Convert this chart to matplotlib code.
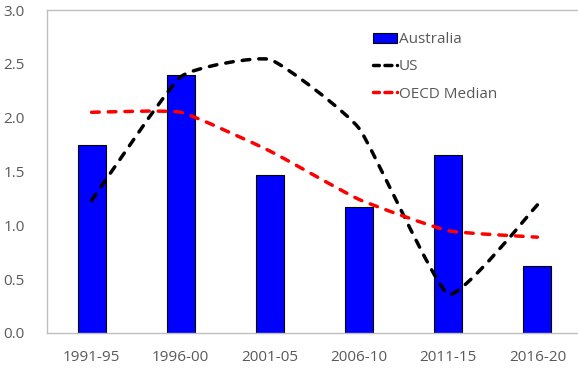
import matplotlib
matplotlib.use("Agg")
import matplotlib.pyplot as plt
import numpy as np
from matplotlib.path import Path
from matplotlib.patches import PathPatch
from matplotlib.lines import Line2D
from matplotlib.patches import Patch

plt.rcParams['font.family'] = ['Open Sans', 'DejaVu Sans']

periods = ["1991-95", "1996-00", "2001-05", "2006-10", "2011-15", "2016-20"]
australia = [1.75, 2.40, 1.47, 1.17, 1.65, 0.62]
us = [1.23, 2.38, 2.54, 1.90, 0.36, 1.19]
oecd_median = [2.05, 2.05, 1.69, 1.24, 0.95, 0.89]

yticks = [0.0, 0.5, 1.0, 1.5, 2.0, 2.5, 3.0]
grey = "#595959"


def smooth_path(xs, ys, tension=0.07):
    """Cubic Bezier path through the points with gently rounded corners."""
    pts = np.column_stack([xs, ys]).astype(float)
    n = len(pts)
    verts = [pts[0]]
    codes = [Path.MOVETO]
    for i in range(n - 1):
        p0 = pts[i - 1] if i > 0 else pts[i]
        p1 = pts[i]
        p2 = pts[i + 1]
        p3 = pts[i + 2] if i + 2 < n else pts[i + 1]
        c1 = p1 + (p2 - p0) * tension
        c2 = p2 - (p3 - p1) * tension
        verts += [c1, c2, p2]
        codes += [Path.CURVE4] * 3
    return Path(verts, codes)


fig = plt.figure(figsize=(5.78, 3.68), dpi=100)
ax = fig.add_axes([47 / 578, 35 / 368, 535 / 578, 323 / 368])

x = np.arange(len(periods))
ax.bar(x, australia, width=0.315, color="#0000FF", edgecolor="black",
       linewidth=0.8, zorder=2)

dash = (0, (2.2, 2.6))
line_style = dict(linewidth=2.5, linestyle=dash, fill=False,
                  capstyle="round", joinstyle="round", zorder=3)
ax.add_patch(PathPatch(smooth_path(x, us), edgecolor="black", **line_style))
ax.add_patch(PathPatch(smooth_path(x, oecd_median), edgecolor="#FF0000", **line_style))

ax.set_xlim(-0.5, len(periods) - 0.5)
ax.set_ylim(0, 3.0)
ax.set_yticks(yticks)
ax.set_yticklabels([f"{v:.1f}" for v in yticks])
ax.set_xticks(x)
ax.set_xticklabels(periods)
ax.tick_params(axis="both", length=0, labelsize=11, colors=grey)
ax.tick_params(axis="y", pad=16)
ax.tick_params(axis="x", pad=12)

for side in ["left", "bottom", "top", "right"]:
    ax.spines[side].set_color("#BFBFBF")
    ax.spines[side].set_linewidth(1.0)

handles = [
    Patch(facecolor="#0000FF", edgecolor="black", linewidth=0.8),
    Line2D([], [], color="black", linewidth=2.5, linestyle=(0.3, (2.0, 1.6)),
           dash_capstyle="round"),
    Line2D([], [], color="#FF0000", linewidth=2.5, linestyle=(0.3, (2.0, 1.6)),
           dash_capstyle="round"),
]
leg = ax.legend(handles, ["Australia", "US", "OECD Median"],
                loc="upper left", bbox_to_anchor=(0.598, 0.95),
                frameon=False, fontsize=11, handlelength=1.55,
                handleheight=0.65, handletextpad=0.15, labelspacing=0.8,
                borderaxespad=0)
for t in leg.get_texts():
    t.set_color(grey)

fig.savefig("out.png", dpi=100)
